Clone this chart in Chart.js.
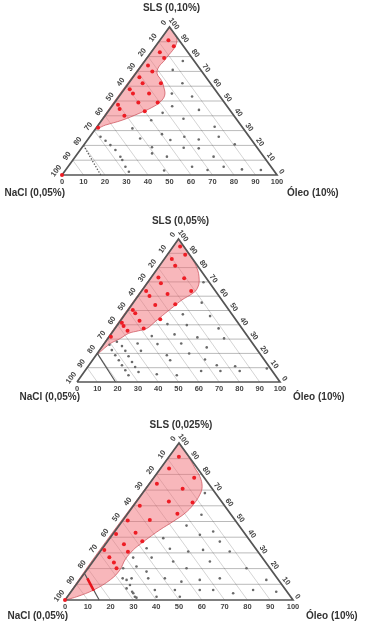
<!DOCTYPE html>
<html>
<head>
<meta charset="utf-8">
<script src="https://cdn.jsdelivr.net/npm/chart.js@4.4.1/dist/chart.umd.min.js"></script>
<style>
html, body { margin: 0; padding: 0; background: #fff; }
.box { position: absolute; left: 0; width: 366px; }
</style>
</head>
<body>
<div class="box" style="top:0;height:200px"><canvas id="t1"></canvas></div>
<div class="box" style="top:200px;height:205px"><canvas id="t2"></canvas></div>
<div class="box" style="top:405px;height:219px"><canvas id="t3"></canvas></div>
<script>
// tick values, same on the three sides
const ticks = [0, 10, 20, 30, 40, 50, 60, 70, 80, 90, 100];
const gridLevels = [10, 20, 30, 40, 50, 60, 70, 80, 90];

const titles = ['SLS (0,10%)', 'SLS (0,05%)', 'SLS (0,025%)'];
const leftLabel = 'NaCl (0,05%)';
const rightLabel = 'Óleo (10%)';

// --- diagram 1 : SLS 0,10% --- (Óleo %, SLS %), NaCl = rest
const red1Oleo = [4, 8.5, 4, 8, 3, 7, 3, 6.5, 15, 2.5, 5.5, 13, 2.3, 4.5, 11, 20, 9, 17, 0.8, 0];
const red1Sls  = [91, 87, 83, 79, 74, 70, 66, 62, 62, 58, 55, 55, 47.5, 44.6, 49, 49, 40, 43, 32, 0];
const gray1Oleo = [17.7, 16, 25, 23.6, 34, 28, 41.7, 25.8, 23, 37.5, 54.7, 17, 32.7, 60, 38.6, 44, 51.6, 70, 32.5, 47.4, 54.6, 34.6, 42.6, 64.3, 46, 57.7, 72.4, 81.8, 90.8, 66, 5, 8.7, 12.4, 16.4, 21, 23, 26.7, 30, 24];
const gray1Sls  = [77, 71, 62, 55, 53, 46.5, 44, 42, 37, 38, 32.6, 31.5, 27.6, 25.8, 23.6, 25.8, 24, 20.7, 18.7, 18.4, 18, 14.6, 12.4, 12.4, 3, 5.6, 5.6, 3.8, 3.4, 3.4, 25.8, 23.1, 20.2, 16.9, 12.3, 10.1, 5.6, 2.2, 24.7];
const zone1Oleo = [0, 8.2, 9, 8.5, 10, 14.2, 17.5, 20.8, 21, 19, 15, 9.4, 3.3, 0, 0];
const zone1Sls  = [100, 90.6, 78, 73, 68.5, 64, 59.6, 54, 49.4, 45.6, 41.6, 37, 33.7, 31.5, 100];
const line1Oleo = [0, 18];
const line1Sls  = [20, 0];

// --- diagram 2 : SLS 0,05% ---
const red2Oleo = [3.4, 8.8, 3.7, 7.7, 16.5, 3.6, 6.8, 24.4, 2.2, 5.6, 13.8, 11.6, 21.2, 2.3, 4.7, 9.4, 19.1, 1.4, 3.4, 14.1, 7, 0.9];
const red2Sls  = [94.8, 89, 86, 81.3, 72.6, 73, 69.1, 63.7, 63.7, 60.2, 61.6, 53.9, 54.4, 50.4, 48, 42.8, 43.8, 41.4, 39.1, 37.5, 35.8, 31.6];
const gray2Oleo = [27.4, 33.7, 42.5, 24.3, 34.2, 43.7, 20.8, 26.4, 51.8, 57.2, 20.6, 5.6, 9.6, 12.9, 16.4, 20.1, 23.4, 26.8, 34.9, 38.3, 55.2, 63, 72.4, 46.8, 36.6, 57.3, 66.8, 76.3, 88.8, 28.5, 51, 31.4, 37.9, 16.4, 45.3, 3, 6, 9.5, 13, 16.3, 19.7, 23];
const gray2Sls  = [69.8, 55.5, 46.1, 40.5, 39.8, 31.2, 32.1, 26.5, 24.2, 30.5, 21.8, 28.1, 25.1, 21.8, 18, 14, 10.5, 7, 18.7, 15.2, 15.7, 11.7, 11, 4.7, 5.4, 7.7, 7.7, 7.7, 9.4, 47.3, 37.5, 33.3, 26.9, 26.9, 19.9, 26, 22.3, 18.7, 15.2, 11.7, 8.2, 4.7];
const zone2Oleo = [0, 10, 19, 24.5, 26.5, 26, 23, 21.2, 19.4, 17.4, 15.7, 12.4, 8.4, 6.1, 3, 0, 0];
const zone2Sls  = [100, 90, 80, 71.4, 65.6, 62, 57.4, 52.7, 48, 42.2, 37.5, 35.8, 34, 30.4, 26.9, 20, 100];
const line2Oleo = [0, 19];
const line2Sls  = [20, 0];

// --- diagram 3 : SLS 0,025% ---
const red3Oleo = [4.3, 3.8, 17.7, 3.3, 16.2, 14.2, 24.9, 2.8, 21.8, 2.2, 11.7, 1.4, 9.5, 15.2, 8.1, 1.3, 12.2, 5.8, 9.5, 12.5, 0];
const red3Sls  = [91.3, 83.7, 77.9, 74, 70.8, 62.7, 62.1, 60, 55, 50.6, 51, 42, 42.9, 37.4, 35.5, 31.9, 30.8, 27.3, 23.9, 20.2, 0];
const gray3Oleo = [27.3, 32.7, 43.2, 29.6, 23.4, 38.4, 49.3, 19.3, 29.7, 38.6, 44.6, 56.8, 16.4, 24.5, 35.2, 51.3, 15.4, 26.7, 43.2, 69.5, 18.4, 22.3, 29.6, 36.9, 45.2, 52.7, 61, 81.9, 23.3, 27.8, 36.2, 45, 55.9, 61.8, 71.6, 79.3, 90, 30.6, 39.1, 49.3, 20.6, 23.7, 26.8, 29.6, 20.7];
const gray3Sls  = [68.1, 54.3, 43.6, 47.4, 39.4, 41.5, 37.2, 33, 32.6, 30.9, 31.9, 30.9, 27, 27, 24.5, 24.5, 20.2, 18.1, 20.2, 20.2, 13.8, 13.8, 13.8, 13.8, 11.7, 12.8, 13.8, 12.8, 7.4, 4.3, 6.4, 6.4, 6.4, 6.4, 4.3, 6.4, 5.3, 1.5, 2.1, 2.1, 12.8, 9.6, 5.3, 2.1, 21.3];
const zone3Oleo = [0, 7, 15, 19.8, 24, 25.6, 25.9, 25, 22.4, 19.3, 16.8, 15, 14, 13.5, 14.5, 13.5, 9.5, 4, 0, 0];
const zone3Sls  = [100, 93, 84, 78.7, 72.3, 67, 60.6, 55.3, 50, 44.7, 39.4, 35, 32, 26, 19, 13, 6.5, 2, 0, 100];
const line3Oleo = [0, 15];
const line3Sls  = [17, 0];
const redSeg3Oleo = [2.9, 9.7];
const redSeg3Sls  = [13.8, 5.9];

// ternary (Óleo, SLS) -> cartesian
function pt(a, s) { return { x: a + s / 2, y: s }; }
function pts(oleo, sls) { return oleo.map((a, i) => pt(a, sls[i])); }

const ternLabels = {
  id: 'ternLabels',
  afterDatasetsDraw(chart, args, o) {
    const ctx = chart.ctx;
    const xs = chart.scales.x, ys = chart.scales.y;
    const P = (a, s) => [xs.getPixelForValue(a + s / 2), ys.getPixelForValue(s)];
    const [blx, bly] = P(0, 0), [brx, bry] = P(100, 0), [apx, apy] = P(0, 100);
    let ex = apx - blx, ey = apy - bly, el = Math.hypot(ex, ey); ex /= el; ey /= el;
    let fx = brx - apx, fy = bry - apy, fl = Math.hypot(fx, fy); fx /= fl; fy /= fl;

    ctx.save();
    ctx.fillStyle = '#444';
    ctx.font = 'bold 7.5px "Liberation Sans", Arial, sans-serif';
    ctx.textAlign = 'center';
    ctx.textBaseline = 'middle';
    ticks.forEach(v => {
      const [bx, by] = P(v, 0);
      ctx.fillText(String(v), bx, by + 7);

      const [lx, ly] = P(0, 100 - v);
      ctx.save();
      ctx.translate(lx + ey * 7, ly - ex * 7);
      ctx.rotate(Math.atan2(ey, ex));
      ctx.fillText(String(v), 0, 0);
      ctx.restore();

      const [rx, ry] = P(100 - v, v);
      ctx.save();
      ctx.translate(rx + fy * 5.5, ry - fx * 5.5);
      ctx.rotate(Math.atan2(fy, fx));
      ctx.fillText(String(v), 0, 0);
      ctx.restore();
    });

    ctx.fillStyle = '#333';
    ctx.font = 'bold 10px "Liberation Sans", Arial, sans-serif';
    ctx.fillText(o.title, apx + 2, apy - o.titleDy);
    ctx.textAlign = 'right';
    ctx.fillText(leftLabel, blx + 3, bly + o.cornerDy);
    ctx.textAlign = 'left';
    ctx.fillText(rightLabel, brx + o.rightDx, bry + o.cornerDy);
    ctx.restore();
  }
};

function makeTernary(id, d) {
  const gridColor = 'rgba(0,0,0,0.3)';
  const datasets = [];
  gridLevels.forEach(g => {
    datasets.push({ data: [pt(0, g), pt(100 - g, g)], borderColor: gridColor, borderWidth: 0.9, order: 6 });
    datasets.push({ data: [pt(0, 100 - g), pt(100 - g, 0)], borderColor: 'rgba(0,0,0,0.22)', borderWidth: 0.8, order: 6 });
  });
  datasets.push({
    data: pts(d.zoneOleo, d.zoneSls), fill: 'shape', tension: 0.4,
    backgroundColor: 'rgba(240,105,112,0.48)', borderColor: 'rgba(200,70,80,0.85)', borderWidth: 0.8, order: 5
  });
  datasets.push({
    data: [pt(0, 0), pt(100, 0), pt(0, 100), pt(0, 0)],
    borderColor: '#555', borderWidth: 1.7, order: 2
  });
  datasets.push({
    data: pts(d.lineOleo, d.lineSls), borderColor: '#555', borderWidth: d.dotted ? 1.3 : 1.2,
    borderDash: d.dotted ? [1.3, 1.7] : [], order: 3
  });
  if (d.segOleo) {
    datasets.push({ data: pts(d.segOleo, d.segSls), borderColor: '#e8141c', borderWidth: 2.6, order: 1 });
  }
  datasets.push({
    data: pts(d.grayOleo, d.graySls), showLine: false,
    pointRadius: 1.3, pointBackgroundColor: '#6a6a6a', pointBorderWidth: 0, order: 1
  });
  datasets.push({
    data: pts(d.redOleo, d.redSls), showLine: false,
    pointRadius: 2, pointBackgroundColor: '#ee1c24', pointBorderWidth: 0, order: 0
  });
  datasets.forEach(ds => { ds.clip = false; if (ds.fill === undefined) ds.fill = false; });

  new Chart(document.getElementById(id), {
    type: 'line',
    data: { datasets: datasets },
    options: {
      responsive: true,
      maintainAspectRatio: false,
      animation: false,
      events: [],
      layout: { padding: d.pad },
      elements: { point: { radius: 0 } },
      scales: {
        x: { type: 'linear', min: 0, max: 100, display: false },
        y: { type: 'linear', min: 0, max: 100, display: false }
      },
      plugins: {
        legend: { display: false },
        tooltip: { enabled: false },
        ternLabels: d.labels
      }
    },
    plugins: [ternLabels]
  });
}

makeTernary('t1', {
  redOleo: red1Oleo, redSls: red1Sls, grayOleo: gray1Oleo, graySls: gray1Sls,
  zoneOleo: zone1Oleo, zoneSls: zone1Sls, lineOleo: line1Oleo, lineSls: line1Sls, dotted: true,
  pad: { left: 62, right: 89, top: 27, bottom: 25 },
  labels: { title: titles[0], titleDy: 19, cornerDy: 18, rightDx: 10 }
});
makeTernary('t2', {
  redOleo: red2Oleo, redSls: red2Sls, grayOleo: gray2Oleo, graySls: gray2Sls,
  zoneOleo: zone2Oleo, zoneSls: zone2Sls, lineOleo: line2Oleo, lineSls: line2Sls, dotted: false,
  pad: { left: 77, right: 86, top: 39, bottom: 23 },
  labels: { title: titles[1], titleDy: 18, cornerDy: 15, rightDx: 13 }
});
makeTernary('t3', {
  redOleo: red3Oleo, redSls: red3Sls, grayOleo: gray3Oleo, graySls: gray3Sls,
  zoneOleo: zone3Oleo, zoneSls: zone3Sls, lineOleo: line3Oleo, lineSls: line3Sls, dotted: false,
  segOleo: redSeg3Oleo, segSls: redSeg3Sls,
  pad: { left: 65, right: 73, top: 38, bottom: 24 },
  labels: { title: titles[2], titleDy: 18, cornerDy: 16, rightDx: 13 }
});
</script>
</body>
</html>
